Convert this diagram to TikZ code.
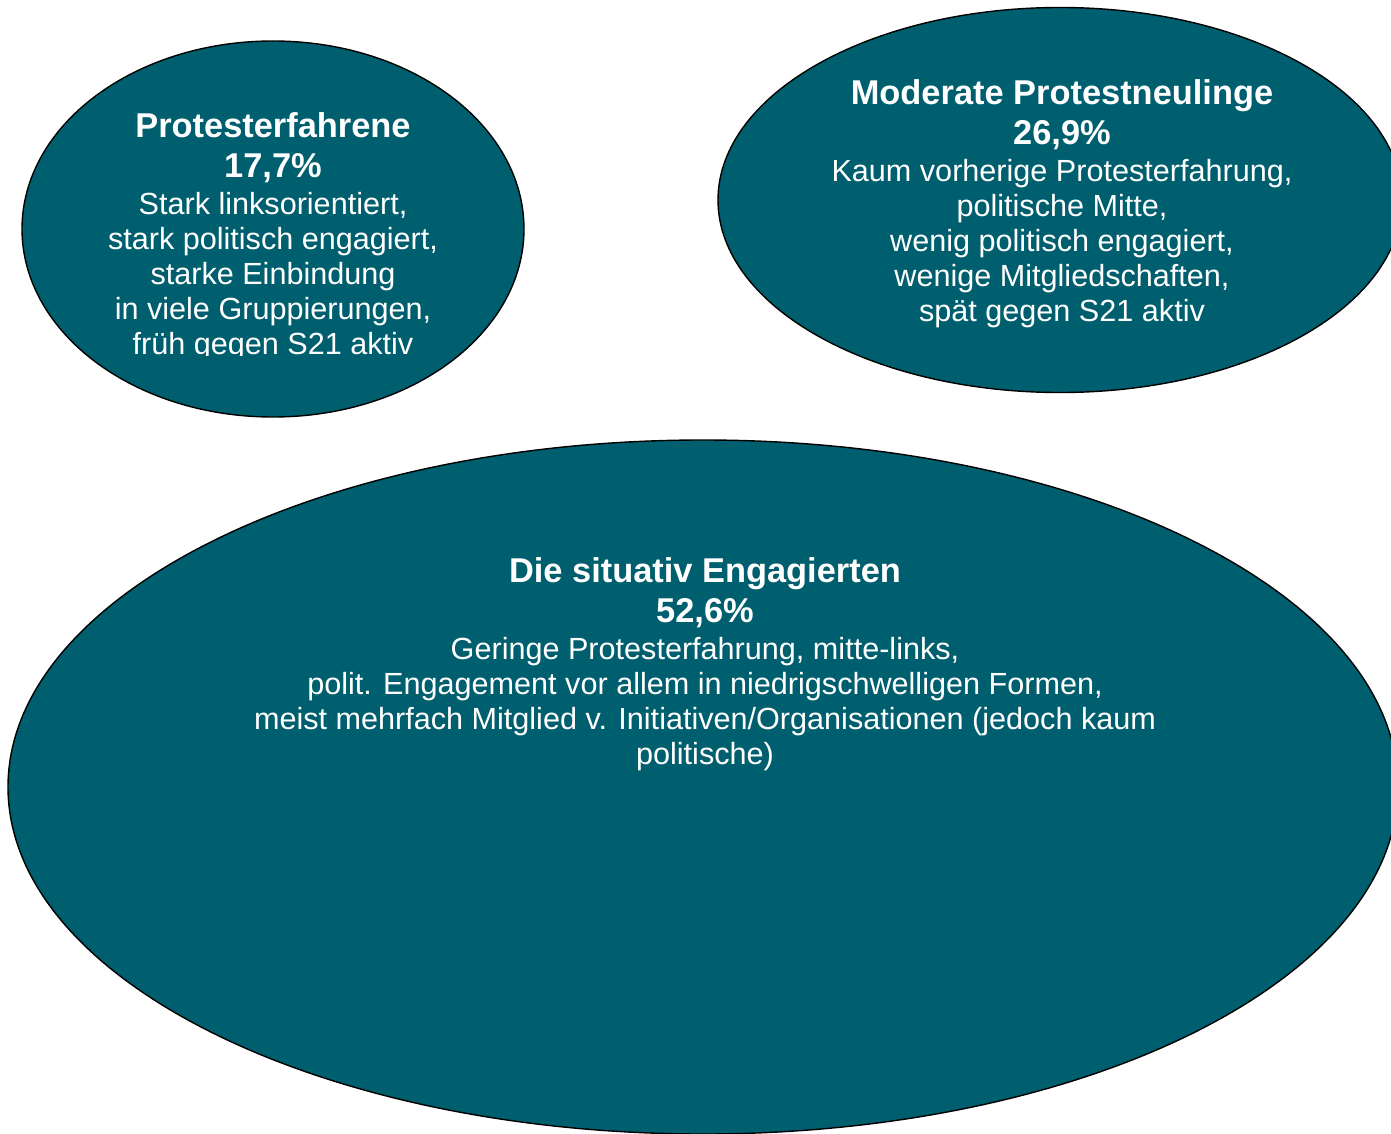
\documentclass[tikz,border=0pt]{standalone}
\usepackage{fontspec}
\setmainfont{Liberation Sans}
\usetikzlibrary{shapes.geometric}

\definecolor{petrol}{RGB}{0,95,110}
\newcommand{\headfont}{\fontsize{17.2}{19.5}\selectfont\bfseries}
\tikzset{
  blob/.style={ellipse, draw=black, line width=0.7pt, fill=petrol, inner sep=0pt},
  blobtext/.style={anchor=north, align=center, text=white, inner sep=0pt,
    font=\fontsize{15.3}{17.5}\selectfont},
}

\begin{document}
\begin{tikzpicture}[x=0.5pt, y=-0.5pt]
% 1 unit = 1 pixel of the page
\clip (0,0) rectangle (1391,1134);
\node [blob, minimum width=251pt, minimum height=188pt] (erfahrene) at (273,229) {};
\node [blob, minimum width=342pt, minimum height=192.5pt] (neulinge) at (1060,200) {};
\node [blob, minimum width=695pt, minimum height=347pt] (situativ) at (703,787) {};
\begin{scope}
\clip (0,0) rectangle (1391,355);
\node [blobtext] (erfahrene-text) at (273,112) {{\headfont Protesterfahrene}\\[2.5pt]
  {\headfont 17,7\%}\\[1pt]
  Stark linksorientiert,\\ stark politisch engagiert,\\ starke Einbindung\\
  in viele Gruppierungen,\\ früh gegen S21 aktiv};
\end{scope}
\node [blobtext] (neulinge-text) at (1062,79) {{\headfont Moderate Protestneulinge}\\[2.5pt]
  {\headfont 26,9\%}\\[1pt]
  Kaum vorherige Protesterfahrung,\\ politische Mitte,\\ wenig politisch engagiert,\\
  wenige Mitgliedschaften,\\ spät gegen S21 aktiv};
\node [blobtext] (situativ-text) at (705,557) {{\headfont Die situativ Engagierten}\\[2.5pt]
  {\headfont 52,6\%}\\[1pt]
  Geringe Protesterfahrung, mitte-links,\\
  polit. Engagement vor allem in niedrigschwelligen Formen,\\
  meist mehrfach Mitglied v. Initiativen/Organisationen (jedoch kaum\\ politische)};
\end{tikzpicture}
\end{document}
